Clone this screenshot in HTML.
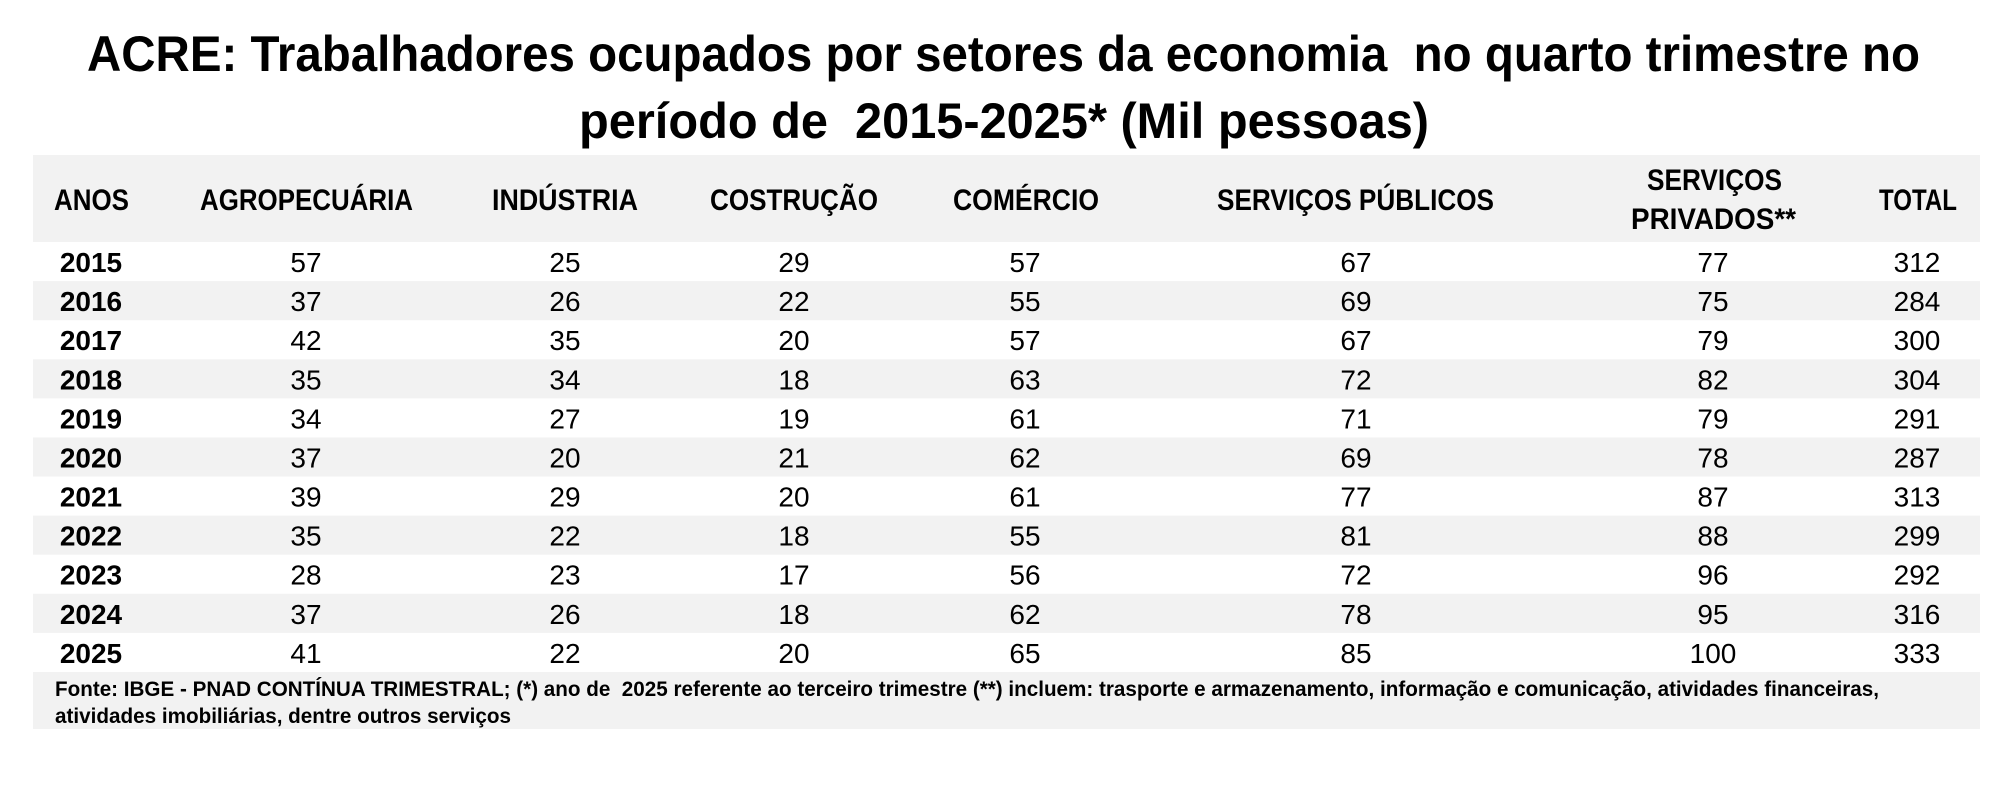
<!DOCTYPE html>
<html>
<head>
<meta charset="utf-8">
<style>
html,body{margin:0;padding:0;background:#fff;}
svg{display:block;}
text{font-family:"Liberation Sans",Arial,sans-serif;fill:#000;white-space:pre;}
.t{font-weight:bold;font-size:50px;}
.h{font-weight:bold;font-size:30px;}
.y{font-weight:bold;font-size:28px;}
.d{font-size:28px;}
.f{font-weight:bold;font-size:21px;}
</style>
</head>
<body>
<svg width="2006" height="786" viewBox="0 0 2006 786" xmlns="http://www.w3.org/2000/svg">
<rect x="0" y="0" width="2006" height="786" fill="#fff"/>
<!-- Title -->
<text class="t" x="87" y="71" textLength="1833" lengthAdjust="spacingAndGlyphs">ACRE: Trabalhadores ocupados por setores da economia  no quarto trimestre no</text>
<text class="t" x="579" y="138" textLength="850" lengthAdjust="spacingAndGlyphs">período de  2015-2025* (Mil pessoas)</text>

<!-- Header band -->
<rect x="33" y="155" width="1947" height="87" fill="#f2f2f2"/>
<text class="h" x="54" y="210" textLength="75" lengthAdjust="spacingAndGlyphs">ANOS</text>
<text class="h" x="200" y="210" textLength="213" lengthAdjust="spacingAndGlyphs">AGROPECUÁRIA</text>
<text class="h" x="492" y="210" textLength="146" lengthAdjust="spacingAndGlyphs">INDÚSTRIA</text>
<text class="h" x="710" y="210" textLength="168" lengthAdjust="spacingAndGlyphs">COSTRUÇÃO</text>
<text class="h" x="953" y="210" textLength="146" lengthAdjust="spacingAndGlyphs">COMÉRCIO</text>
<text class="h" x="1217" y="210" textLength="277" lengthAdjust="spacingAndGlyphs">SERVIÇOS PÚBLICOS</text>
<text class="h" x="1647" y="190" textLength="135" lengthAdjust="spacingAndGlyphs">SERVIÇOS</text>
<text class="h" x="1631" y="229" textLength="165" lengthAdjust="spacingAndGlyphs">PRIVADOS**</text>
<text class="h" x="1879" y="210" textLength="78" lengthAdjust="spacingAndGlyphs">TOTAL</text>

<!-- Row bands (2016, 2018, 2020, 2022, 2024) -->
<rect x="33" y="281.1" width="1947" height="39.1" fill="#f2f2f2"/>
<rect x="33" y="359.3" width="1947" height="39.1" fill="#f2f2f2"/>
<rect x="33" y="437.5" width="1947" height="39.1" fill="#f2f2f2"/>
<rect x="33" y="515.6" width="1947" height="39.1" fill="#f2f2f2"/>
<rect x="33" y="593.8" width="1947" height="39.1" fill="#f2f2f2"/>

<!-- Data rows -->
<g text-anchor="middle">
<!-- 2015 -->
<text class="y" x="91" y="272">2015</text><text class="d" x="306" y="272">57</text><text class="d" x="565" y="272">25</text><text class="d" x="794" y="272">29</text><text class="d" x="1025" y="272">57</text><text class="d" x="1356" y="272">67</text><text class="d" x="1713" y="272">77</text><text class="d" x="1917" y="272">312</text>
<!-- 2016 -->
<text class="y" x="91" y="311.1">2016</text><text class="d" x="306" y="311.1">37</text><text class="d" x="565" y="311.1">26</text><text class="d" x="794" y="311.1">22</text><text class="d" x="1025" y="311.1">55</text><text class="d" x="1356" y="311.1">69</text><text class="d" x="1713" y="311.1">75</text><text class="d" x="1917" y="311.1">284</text>
<!-- 2017 -->
<text class="y" x="91" y="350.2">2017</text><text class="d" x="306" y="350.2">42</text><text class="d" x="565" y="350.2">35</text><text class="d" x="794" y="350.2">20</text><text class="d" x="1025" y="350.2">57</text><text class="d" x="1356" y="350.2">67</text><text class="d" x="1713" y="350.2">79</text><text class="d" x="1917" y="350.2">300</text>
<!-- 2018 -->
<text class="y" x="91" y="389.3">2018</text><text class="d" x="306" y="389.3">35</text><text class="d" x="565" y="389.3">34</text><text class="d" x="794" y="389.3">18</text><text class="d" x="1025" y="389.3">63</text><text class="d" x="1356" y="389.3">72</text><text class="d" x="1713" y="389.3">82</text><text class="d" x="1917" y="389.3">304</text>
<!-- 2019 -->
<text class="y" x="91" y="428.4">2019</text><text class="d" x="306" y="428.4">34</text><text class="d" x="565" y="428.4">27</text><text class="d" x="794" y="428.4">19</text><text class="d" x="1025" y="428.4">61</text><text class="d" x="1356" y="428.4">71</text><text class="d" x="1713" y="428.4">79</text><text class="d" x="1917" y="428.4">291</text>
<!-- 2020 -->
<text class="y" x="91" y="467.5">2020</text><text class="d" x="306" y="467.5">37</text><text class="d" x="565" y="467.5">20</text><text class="d" x="794" y="467.5">21</text><text class="d" x="1025" y="467.5">62</text><text class="d" x="1356" y="467.5">69</text><text class="d" x="1713" y="467.5">78</text><text class="d" x="1917" y="467.5">287</text>
<!-- 2021 -->
<text class="y" x="91" y="506.5">2021</text><text class="d" x="306" y="506.5">39</text><text class="d" x="565" y="506.5">29</text><text class="d" x="794" y="506.5">20</text><text class="d" x="1025" y="506.5">61</text><text class="d" x="1356" y="506.5">77</text><text class="d" x="1713" y="506.5">87</text><text class="d" x="1917" y="506.5">313</text>
<!-- 2022 -->
<text class="y" x="91" y="545.6">2022</text><text class="d" x="306" y="545.6">35</text><text class="d" x="565" y="545.6">22</text><text class="d" x="794" y="545.6">18</text><text class="d" x="1025" y="545.6">55</text><text class="d" x="1356" y="545.6">81</text><text class="d" x="1713" y="545.6">88</text><text class="d" x="1917" y="545.6">299</text>
<!-- 2023 -->
<text class="y" x="91" y="584.7">2023</text><text class="d" x="306" y="584.7">28</text><text class="d" x="565" y="584.7">23</text><text class="d" x="794" y="584.7">17</text><text class="d" x="1025" y="584.7">56</text><text class="d" x="1356" y="584.7">72</text><text class="d" x="1713" y="584.7">96</text><text class="d" x="1917" y="584.7">292</text>
<!-- 2024 -->
<text class="y" x="91" y="623.8">2024</text><text class="d" x="306" y="623.8">37</text><text class="d" x="565" y="623.8">26</text><text class="d" x="794" y="623.8">18</text><text class="d" x="1025" y="623.8">62</text><text class="d" x="1356" y="623.8">78</text><text class="d" x="1713" y="623.8">95</text><text class="d" x="1917" y="623.8">316</text>
<!-- 2025 -->
<text class="y" x="91" y="662.9">2025</text><text class="d" x="306" y="662.9">41</text><text class="d" x="565" y="662.9">22</text><text class="d" x="794" y="662.9">20</text><text class="d" x="1025" y="662.9">65</text><text class="d" x="1356" y="662.9">85</text><text class="d" x="1713" y="662.9">100</text><text class="d" x="1917" y="662.9">333</text>
</g>

<!-- Footnote -->
<rect x="33" y="672" width="1947" height="57" fill="#f2f2f2"/>
<text class="f" x="55" y="696" textLength="1824" lengthAdjust="spacingAndGlyphs">Fonte: IBGE - PNAD CONTÍNUA TRIMESTRAL; (*) ano de  2025 referente ao terceiro trimestre (**) incluem: trasporte e armazenamento, informação e comunicação, atividades financeiras,</text>
<text class="f" x="55" y="723" textLength="456" lengthAdjust="spacingAndGlyphs">atividades imobiliárias, dentre outros serviços</text>
</svg>
</body>
</html>
